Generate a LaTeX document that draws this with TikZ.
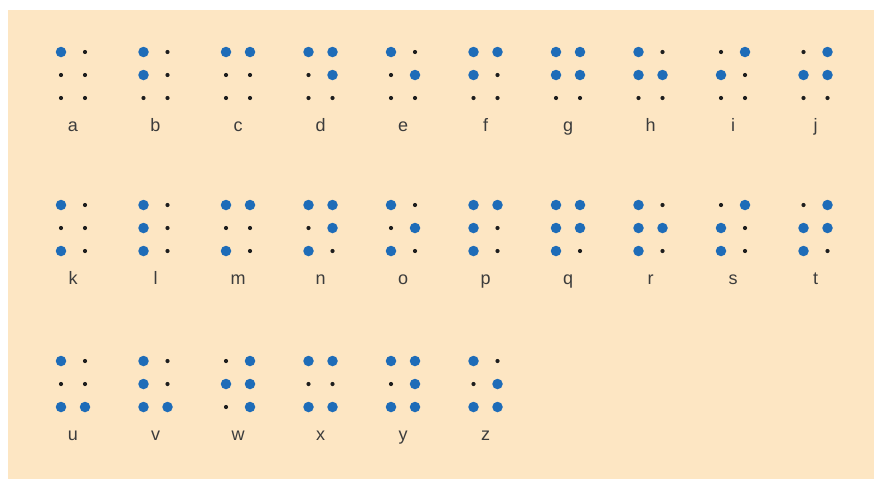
\documentclass[tikz,border=0pt]{standalone}
\usepackage{fontspec}
\setmainfont{Liberation Sans}
\definecolor{peach}{RGB}{253,230,195}
\definecolor{dotblue}{RGB}{30,108,184}
\definecolor{dotdark}{RGB}{30,30,30}
\definecolor{labgray}{RGB}{60,60,60}
\tikzset{
  raised/.style={circle,fill=dotblue,inner sep=0pt,minimum size=10.5pt},
  flat/.style={circle,fill=dotdark,inner sep=0pt,minimum size=4.2pt},
  letterlab/.style={anchor=base,text=labgray,font=\fontsize{18}{20}\selectfont,inner sep=0pt}
}
\begin{document}
\begin{tikzpicture}[x=1pt,y=-1pt]
\useasboundingbox (0,0) rectangle (874,479);
\fill[white] (0,0) rectangle (874,479);
\fill[peach] (8,10) rectangle (874,479);
% pattern: list of raised dots (1-6)
\foreach \ch/\col/\row/\pat in {
 a/0/0/{1}, b/1/0/{1,2}, c/2/0/{1,4}, d/3/0/{1,4,5}, e/4/0/{1,5},
 f/5/0/{1,2,4}, g/6/0/{1,2,4,5}, h/7/0/{1,2,5}, i/8/0/{2,4}, j/9/0/{2,4,5},
 k/0/1/{1,3}, l/1/1/{1,2,3}, m/2/1/{1,3,4}, n/3/1/{1,3,4,5}, o/4/1/{1,3,5},
 p/5/1/{1,2,3,4}, q/6/1/{1,2,3,4,5}, r/7/1/{1,2,3,5}, s/8/1/{2,3,4}, t/9/1/{2,3,4,5},
 u/0/2/{1,3,6}, v/1/2/{1,2,3,6}, w/2/2/{2,4,5,6}, x/3/2/{1,3,4,6}, y/4/2/{1,3,4,5,6}, z/5/2/{1,3,5,6}}
{
  \pgfmathsetmacro{\cx}{61+82.5*\col}
  \pgfmathsetmacro{\cy}{\row==0 ? 52 : (\row==1 ? 205 : 361)}
  \foreach \d/\dx/\dy in {1/0/0,2/0/1,3/0/2,4/1/0,5/1/1,6/1/2}{
    \def\st{flat}
    \foreach \p in \pat {\ifnum\p=\d\relax\xdef\st{raised}\fi}
    \node[\st] (\ch\d) at (\cx+24*\dx,\cy+23*\dy) {};
    \gdef\st{flat}
  }
  \node[letterlab] (lab\ch) at (\cx+12,\cy+79.5) {\ch};
}
\end{tikzpicture}
\end{document}
